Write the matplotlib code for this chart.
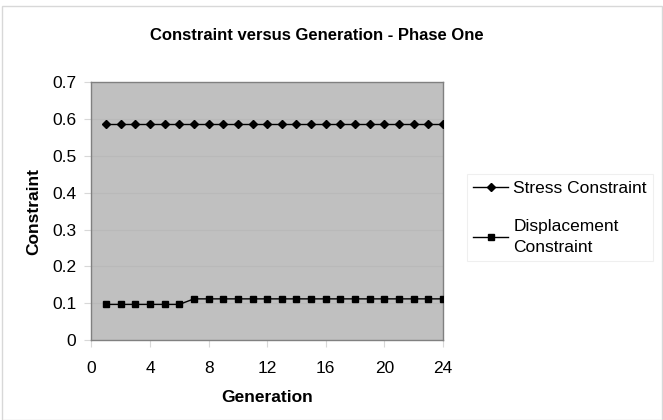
import matplotlib
matplotlib.use('Agg')
import matplotlib.pyplot as plt
from matplotlib.patches import Rectangle

plt.rcParams['font.family'] = ['Liberation Sans', 'DejaVu Sans']

# Data
generation = list(range(1, 25))
stress = [0.585] * 24
displacement = [0.097] * 6 + [0.112] * 18
x_ticks = [0, 4, 8, 12, 16, 20, 24]
y_ticks = [0, 0.1, 0.2, 0.3, 0.4, 0.5, 0.6, 0.7]
y_labels = ['0', '0.1', '0.2', '0.3', '0.4', '0.5', '0.6', '0.7']

fig = plt.figure(figsize=(6.63, 4.2), dpi=100)
# outer chart border
fig.patches.append(Rectangle((0.003, 0.0), 0.995, 0.985, transform=fig.transFigure,
                             fill=False, edgecolor='#d8d8d8', linewidth=1))
ax = fig.add_axes([0.138, 0.190, 0.530, 0.615])
ax.set_facecolor('#c0c0c0')

for y in y_ticks[1:-1]:
    ax.axhline(y, color='#b9b9b9', linewidth=0.8, zorder=1)

ax.plot(generation, stress, color='black', linewidth=1.0, marker='D', markersize=4,
        label='Stress Constraint', zorder=3)
ax.plot(generation, displacement, color='black', linewidth=1.0, marker='s', markersize=4.5,
        label='Displacement\nConstraint', zorder=3)

ax.set_xlim(0, 24)
ax.set_ylim(0, 0.7)
ax.set_xticks(x_ticks)
ax.set_yticks(y_ticks)
ax.set_yticklabels(y_labels)
ax.tick_params(axis='both', labelsize=12.5, length=5, color='#d8d8d8')
ax.tick_params(axis='y', pad=6)
ax.tick_params(axis='x', pad=10)
for s in ax.spines.values():
    s.set_color('#808080')
    s.set_linewidth(1)

ax.set_xlabel('Generation', fontsize=12.5, fontweight='bold', labelpad=10)
ax.set_ylabel('Constraint', fontsize=12.5, fontweight='bold', labelpad=8)
fig.text(0.478, 0.915, 'Constraint versus Generation - Phase One', ha='center',
         va='center', fontsize=12, fontweight='bold')

leg = ax.legend(loc='center left', bbox_to_anchor=(0.705, 0.482), bbox_transform=fig.transFigure,
                frameon=True, fancybox=False, fontsize=12.5, handlelength=2.0,
                handletextpad=0.3, labelspacing=1.35, borderpad=0.35, borderaxespad=0)
for t in leg.get_texts():
    t.set_linespacing(1.45)
leg.get_frame().set_edgecolor('#ececec')
leg.get_frame().set_linewidth(0.8)

fig.savefig('out.png', dpi=100)
